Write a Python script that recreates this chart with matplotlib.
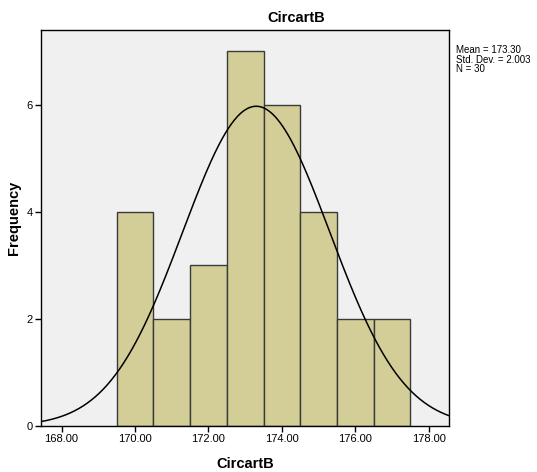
import numpy as np
import matplotlib.pyplot as plt

plt.rcParams['font.family'] = ['Liberation Sans', 'DejaVu Sans']

# histogram data (bin width 1)
binEdges = [169.5, 170.5, 171.5, 172.5, 173.5, 174.5, 175.5, 176.5, 177.5]
counts = [4, 2, 3, 7, 6, 4, 2, 2]
mean = 173.30
stdDev = 2.003
n = 30
xTicks = [168, 170, 172, 174, 176, 178]
yTicks = [0, 2, 4, 6]


def normalCurve(x, mu, sigma, total, width):
    return total * width / (sigma * np.sqrt(2 * np.pi)) * np.exp(-0.5 * ((x - mu) / sigma) ** 2)


def main():
    fig = plt.figure(figsize=(5.37, 4.72), dpi=100)
    ax = fig.add_axes([41 / 537, 46 / 472, 408 / 537, 396 / 472])
    ax.set_facecolor('#F0F0F0')

    lefts = binEdges[:-1]
    widths = np.diff(binEdges)
    ax.bar(lefts, counts, width=widths, align='edge', color='#D3CE98',
           edgecolor='#3A3A3A', linewidth=1.0, zorder=2)

    xMin, xMax = 167.44, 178.55
    xs = np.linspace(xMin, xMax, 400)
    ax.plot(xs, normalCurve(xs, mean, stdDev, n, 1.0), color='black', linewidth=1.1, zorder=3)

    ax.set_xlim(xMin, xMax)
    ax.set_ylim(0, 7.4)
    ax.set_xticks(xTicks)
    ax.set_xticklabels(['{:.2f}'.format(t) for t in xTicks])
    ax.set_yticks(yTicks)
    ax.tick_params(axis='both', labelsize=8, length=4, width=1, direction='out', pad=2)

    for s in ax.spines.values():
        s.set_linewidth(1.0)
        s.set_color('black')

    # title sits right of the plot centre, as in the SPSS output
    fig.text(296 / 537, 1 - 18 / 472, 'CircartB', fontsize=10.5, fontweight='bold',
             ha='center', va='center')
    ax.set_xlabel('CircartB', fontsize=10.5, fontweight='bold', labelpad=9)
    ax.set_ylabel('Frequency', fontsize=10.5, fontweight='bold')
    ax.yaxis.set_label_coords(-0.05, 0.526)

    fig.text(456 / 537, 1 - 45 / 472,
             'Mean = {:.2f}\nStd. Dev. = {:.3f}\nN = {}'.format(mean, stdDev, n),
             fontsize=7, va='top', ha='left', linespacing=0.95)

    fig.savefig('out.png', dpi=100)


if __name__ == "__main__":
    main()
